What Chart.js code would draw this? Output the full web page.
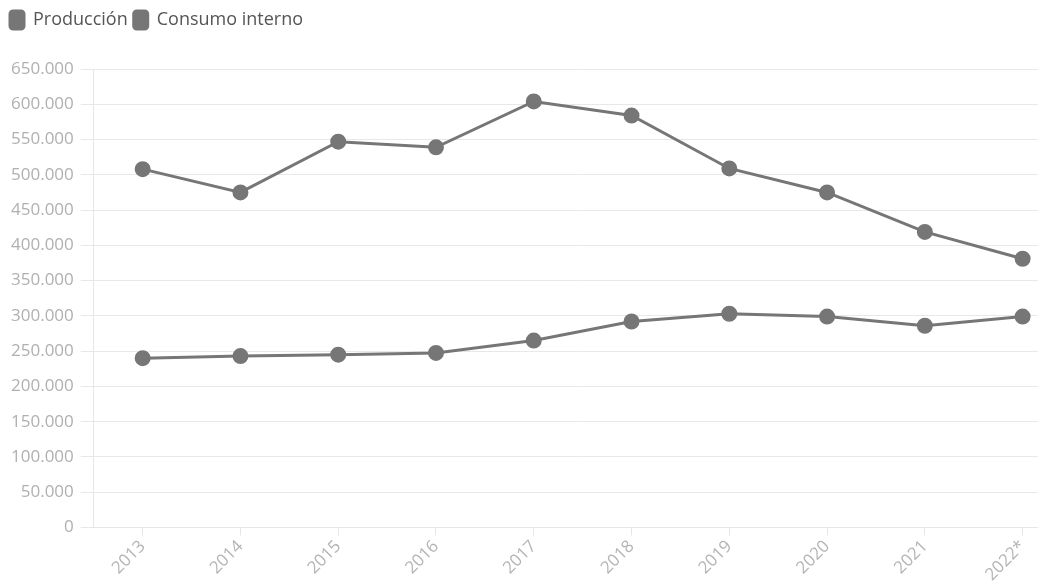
<!DOCTYPE html>
<html>
<head>
<meta charset="utf-8">
<script src="https://cdn.jsdelivr.net/npm/chart.js@4"></script>
<style>
  html, body { margin: 0; padding: 0; background: #fff; overflow: hidden; }
  #wrap { width: 1038px; height: 588px; overflow: hidden; }
  #box { width: 1081px; height: 588px; }
</style>
</head>
<body>
<div id="wrap"><div id="box"><canvas id="chart"></canvas></div></div>
<script>
const years = ['2013', '2014', '2015', '2016', '2017', '2018', '2019', '2020', '2021', '2022*'];
const produccion = [508000, 475000, 547000, 539000, 604000, 584000, 509000, 475000, 419000, 381000];
const consumo = [240000, 243000, 245000, 247500, 265000, 292000, 303000, 299000, 286000, 299000];

const grey = '#767676';
const fmt = v => v.toString().replace(/\B(?=(\d{3})+(?!\d))/g, '.');

// extra space under the legend
const legendMargin = {
    id: 'legendMargin',
    beforeInit(chart) {
        const fit = chart.legend.fit;
        chart.legend.fit = function () {
            fit.bind(chart.legend)();
            this.height += 30;
        };
    }
};

new Chart(document.getElementById('chart'), {
    type: 'line',
    data: {
        labels: years,
        datasets: [
            { label: 'Producción', data: produccion, borderColor: grey, backgroundColor: grey,
              borderWidth: 3, pointRadius: 6.5, pointHoverRadius: 6.5, fill: false, tension: 0 },
            { label: 'Consumo interno', data: consumo, borderColor: grey, backgroundColor: grey,
              borderWidth: 3, pointRadius: 6.5, pointHoverRadius: 6.5, fill: false, tension: 0 }
        ]
    },
    options: {
        responsive: true,
        maintainAspectRatio: false,
        animation: false,
        layout: { padding: { left: 4, top: 5, right: 2, bottom: 2 } },
        plugins: {
            legend: {
                position: 'top', align: 'start',
                labels: {
                    color: '#555', font: { family: 'Open Sans', size: 18 },
                    boxWidth: 14, boxHeight: 18, padding: 6,
                    useBorderRadius: true, borderRadius: 3
                }
            },
            tooltip: { enabled: false }
        },
        scales: {
            x: {
                offset: true,
                grid: { display: true, drawOnChartArea: false, offset: false, tickLength: 8, color: '#e6e6e6' },
                border: { color: '#e6e6e6' },
                ticks: { color: '#b4b4b4', font: { family: 'Open Sans', size: 17 }, minRotation: 45, maxRotation: 45, padding: 1 }
            },
            y: {
                min: 0, max: 650000,
                ticks: { stepSize: 50000, color: '#b0b0b0', font: { family: 'Open Sans', size: 17 }, callback: v => fmt(v), padding: 7 },
                grid: { color: '#e8e8e8', tickLength: 13 },
                border: { color: '#e6e6e6' }
            }
        }
    },
    plugins: [legendMargin]
});
</script>
</body>
</html>
